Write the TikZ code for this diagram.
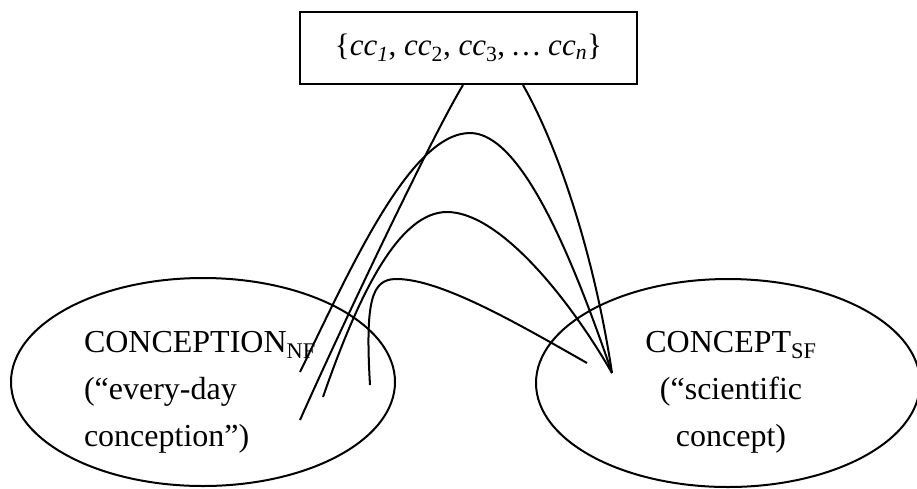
\documentclass[tikz,border=0pt]{standalone}
\usepackage{fontspec}
\setmainfont{Liberation Serif}
\usetikzlibrary{shapes.geometric,calc}
\begin{document}
\begin{tikzpicture}[x=1pt, y=-1pt, line width=2pt,
  conceptarea/.style={draw, ellipse, inner sep=0pt, minimum width=384pt, minimum height=208pt},
  conceptlabel/.style={inner sep=0pt, font=\fontsize{32}{47}\selectfont},
  link/.style={line width=2pt}]
\useasboundingbox (0,0) rectangle (917,488);
\node[draw, inner sep=0pt, minimum width=337pt, minimum height=72pt, font=\fontsize{31}{40}\selectfont] (ccset) at (468.5,48) {\{\textit{cc}\textsubscript{\textit{1}}, \textit{cc}\textsubscript{2}, \textit{cc}\textsubscript{3}, \textit{…} \textit{cc}\textsubscript{\textit{n}}\}};
\node[conceptarea] (conceptionNF) at (203,382) {};
\node[conceptarea] (conceptSF) at (728,383) {};
\node[conceptlabel, align=left, anchor=base west] (conceptionText) at (83,446) {CONCEPTION\textsubscript{NF}\\(“every-day\\conception”)};
\node[conceptlabel, align=center, anchor=base] (conceptText) at (731,446) {CONCEPT\textsubscript{SF}\\(“scientific\\concept)};
\coordinate (nfEndA) at (300,372);
\coordinate (nfEndB) at (300,420);
\coordinate (nfEndC) at (323,397);
\coordinate (nfEndD) at (370,385);
\coordinate (sfTip) at (612,373);
\coordinate (sfEnd) at (587,363);
\draw[link] ($(ccset.south)+(-5.5,0)$) .. controls (430,140) and (340,330) .. (nfEndB);
\draw[link] ($(ccset.south)+(54.5,0)$) .. controls (560,150) and (595,260) .. (sfTip);
\draw[link] (nfEndA) .. controls (350,270) and (410,133) .. (470,133) .. controls (520,133) and (570,250) .. (sfTip);
\draw[link] (nfEndC) .. controls (360,290) and (400,212) .. (447,212) .. controls (500,212) and (570,300) .. (sfTip);
\draw[link] (nfEndD) .. controls (365,300) and (372,280) .. (395,279) .. controls (440,278) and (520,325) .. (sfEnd);
\end{tikzpicture}
\end{document}
